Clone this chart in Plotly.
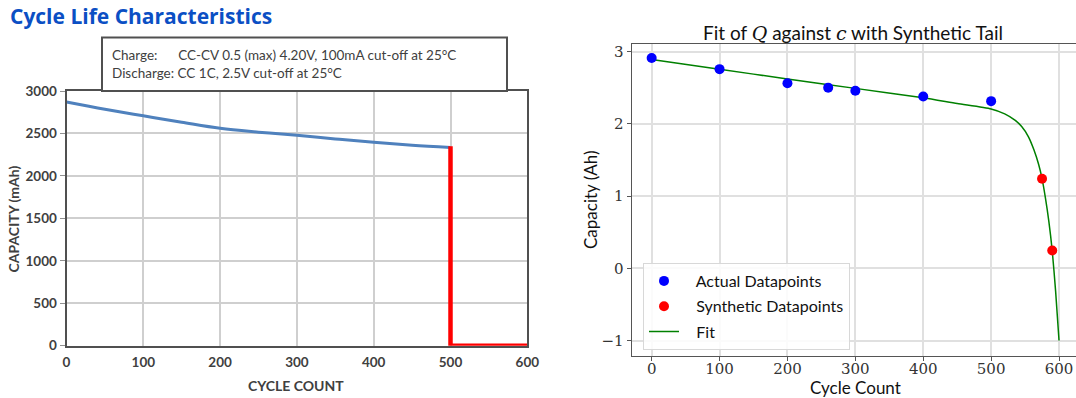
import plotly.graph_objects as go

W, H = 1076, 398

# ---------------- data ----------------
# Left panel: datasheet cycle life curve (mAh)
ds_cycles = [0, 50, 100, 150, 200, 250, 300, 350, 400, 450, 500]
ds_capacity = [2870, 2785, 2708, 2632, 2560, 2515, 2478, 2435, 2395, 2362, 2335]
eol_cycles = [500, 500, 600]
eol_capacity = [2350, 0, 0]

# Right panel: fit with synthetic tail (Ah)
act_cycles = [0, 100, 200, 260, 300, 400, 500]
act_capacity = [2.91, 2.756, 2.562, 2.50, 2.456, 2.377, 2.313]
syn_cycles = [575, 590]
syn_capacity = [1.24, 0.245]
fit_cycles = [0, 100, 200, 300, 400, 450, 500, 520, 535, 545, 555, 563, 570, 575, 580, 585, 590, 595, 600]
fit_capacity = [2.89, 2.755, 2.62, 2.49, 2.36, 2.28, 2.205, 2.137, 2.05, 1.963, 1.82, 1.64, 1.436,
                1.24, 0.97, 0.65, 0.24, -0.32, -1.0]

left_xticks = [0, 100, 200, 300, 400, 500, 600]
left_yticks = [0, 500, 1000, 1500, 2000, 2500, 3000]
right_xticks = [0, 100, 200, 300, 400, 500, 600]
right_yticks = [-1, 0, 1, 2, 3]
right_yticklabels = ["\u22121", "0", "1", "2", "3"]

# ---------------- geometry helpers ----------------
def px(x):
    return x / W

def py(y):
    return 1 - y / H

fig = go.Figure()

# left traces
fig.add_trace(go.Scatter(x=ds_cycles, y=ds_capacity, mode="lines", line=dict(color="#4f81bd", width=3, shape="spline"),
                         xaxis="x", yaxis="y", showlegend=False))
fig.add_trace(go.Scatter(x=eol_cycles, y=eol_capacity, mode="lines", line=dict(color="#ff0000", width=4.5),
                         xaxis="x", yaxis="y", showlegend=False))

# right traces (fit line drawn first so markers sit on top)
fig.add_trace(go.Scatter(x=fit_cycles, y=fit_capacity, mode="lines", name="   Fit",
                         legendrank=3, legendgroup="c",
                         line=dict(color="#008000", width=1.5, shape="spline", smoothing=0.6), xaxis="x2", yaxis="y2"))
fig.add_trace(go.Scatter(x=act_cycles, y=act_capacity, mode="markers", name="   Actual Datapoints",
                         legendrank=1, legendgroup="a",
                         marker=dict(color="#0000ff", size=10), xaxis="x2", yaxis="y2"))
fig.add_trace(go.Scatter(x=syn_cycles, y=syn_capacity, mode="markers", name="   Synthetic Datapoints",
                         legendrank=2, legendgroup="b",
                         marker=dict(color="#ff0000", size=10), xaxis="x2", yaxis="y2"))

left_font = dict(family="Lato, Open Sans, sans-serif", size=14, color="#404040", weight="bold")
serif = "DejaVu Serif, Liberation Serif, serif"
sans = "Lato, Noto Sans, sans-serif"

fig.update_layout(
    width=W, height=H,
    margin=dict(l=0, r=0, t=0, b=0),
    paper_bgcolor="white", plot_bgcolor="white",
    xaxis=dict(domain=[px(66.5), px(527.3)], range=[0, 600], tickvals=left_xticks, automargin=False,
               showgrid=True, gridcolor="#cfcfcf", gridwidth=1.5,
               showline=True, linecolor="#505050", linewidth=2, mirror=True,
               ticks="", zeroline=False, ticklabelstandoff=3,
               tickfont=dict(family="Lato, Open Sans, sans-serif", size=13.5, color="#404040", weight="bold")),
    yaxis=dict(domain=[py(345.7), py(91)], range=[0, 3000], tickvals=left_yticks, automargin=False,
               showgrid=True, gridcolor="#cfcfcf", gridwidth=1.5,
               showline=True, linecolor="#505050", linewidth=2, mirror=True,
               ticks="outside", ticklen=5, tickcolor="#909090", zeroline=False,
               tickfont=dict(family="Lato, Open Sans, sans-serif", size=13.5, color="#404040", weight="bold")),
    xaxis2=dict(domain=[px(631.7), 1.0], range=[-29.4, 625], tickvals=right_xticks, automargin=False,
                showgrid=True, gridcolor="#e0e0e0", gridwidth=1.5,
                showline=True, linecolor="#555555", linewidth=1.2, mirror=True,
                ticks="outside", ticklen=4, tickcolor="#555555", zeroline=False, ticklabelstandoff=-5,
                tickfont=dict(family=serif, size=15, color="#333333")),
    yaxis2=dict(domain=[py(355.7), py(44.3)], range=[-1.21, 3.10], tickvals=right_yticks, automargin=False,
                ticktext=right_yticklabels, anchor="x2",
                showgrid=True, gridcolor="#e0e0e0", gridwidth=1.5,
                showline=True, linecolor="#555555", linewidth=1.2, mirror=False,
                ticks="outside", ticklen=4, tickcolor="#555555", zeroline=False,
                tickfont=dict(family=serif, size=15, color="#333333")),
    legend=dict(x=px(643), y=py(263), xanchor="left", yanchor="top",
                bgcolor="rgba(255,255,255,0.85)", bordercolor="#d8d8d8", borderwidth=1,
                font=dict(family=sans, size=16, color="#111111"), itemwidth=30,
                traceorder="grouped", tracegroupgap=1.5),
    showlegend=True,
)
fig.update_layout(xaxis2_anchor="y2")

# Axis titles as annotations
fig.add_annotation(x=px(296), y=py(385), xref="paper", yref="paper", xanchor="center", yanchor="middle",
                   text="CYCLE COUNT", showarrow=False, font=left_font)
fig.add_annotation(x=px(12.5), y=py(219), xref="paper", yref="paper", xanchor="center", yanchor="middle",
                   text="CAPACITY (mAh)", textangle=-90, showarrow=False, font=left_font)
fig.add_annotation(x=px(855), y=py(387), xref="paper", yref="paper", xanchor="center", yanchor="middle",
                   text="Cycle Count", showarrow=False, font=dict(family=sans, size=17, color="#111111"))
fig.add_annotation(x=px(591), y=py(200), xref="paper", yref="paper", xanchor="center", yanchor="middle",
                   text="Capacity (Ah)", textangle=-90, showarrow=False,
                   font=dict(family=sans, size=17, color="#111111"))

# Left title
fig.add_annotation(x=px(8), y=py(16), xref="paper", yref="paper", xanchor="left", yanchor="middle",
                   text="<b>Cycle Life Characteristics</b>", showarrow=False,
                   font=dict(family="Open Sans, Lato, sans-serif", size=21, color="#0b4fc4"))

# Left condition box
fig.add_shape(type="rect", xref="paper", yref="paper", x0=px(102), x1=px(507), y0=py(91), y1=py(37.5),
              line=dict(color="#505050", width=2), fillcolor="white", layer="above")
fig.add_annotation(x=px(110), y=py(55), xref="paper", yref="paper", xanchor="left", yanchor="middle",
                   text="Charge:      CC-CV 0.5 (max) 4.20V, 100mA cut-off at 25\u00b0C", showarrow=False,
                   font=dict(family="Lato, Open Sans, sans-serif", size=13.5, color="#404040"))
fig.add_annotation(x=px(110), y=py(72.5), xref="paper", yref="paper", xanchor="left", yanchor="middle",
                   text="Discharge: CC 1C, 2.5V cut-off at 25\u00b0C", showarrow=False,
                   font=dict(family="Lato, Open Sans, sans-serif", size=13.5, color="#404040"))

# Right title
fig.add_annotation(x=px(853), y=py(33), xref="paper", yref="paper", xanchor="center", yanchor="middle",
                   text="Fit of <span style=\"font-family:DejaVu Serif\"><i>Q</i></span> against "
                        "<span style=\"font-family:DejaVu Serif\"><i>c</i></span> with Synthetic Tail",
                   showarrow=False, font=dict(family=sans, size=19, color="#111111"))

fig.write_html("out.html")
